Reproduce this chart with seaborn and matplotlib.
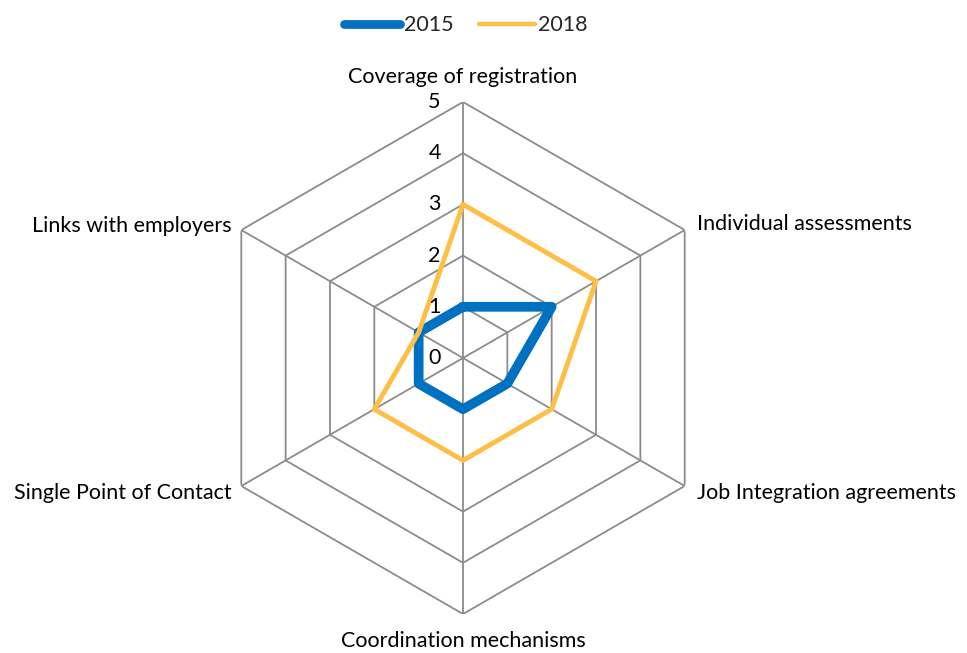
import numpy as np
import pandas as pd
import matplotlib
matplotlib.use("Agg")
import matplotlib.pyplot as plt
import seaborn as sns

categories = ["Coverage of registration", "Individual assessments",
              "Job Integration agreements", "Coordination mechanisms",
              "Single Point of Contact", "Links with employers"]
values_2015 = [1, 2, 1, 1, 1, 1]
values_2018 = [3, 3, 2, 2, 2, 1]
radial_ticks = [0, 1, 2, 3, 4, 5]

COLORS = {"2015": "#0070C0", "2018": "#FFBE45"}
GRID = "#8C8C8C"
FS = 15.5

sns.set_style("white")
plt.rcParams["font.family"] = ["Lato", "DejaVu Sans"]

n = len(categories)
angles = np.linspace(0, 2 * np.pi, n, endpoint=False)
closed = np.append(angles, angles[0])

df = pd.concat([
    pd.DataFrame({"theta": closed, "value": values_2015 + values_2015[:1], "year": "2015"}),
    pd.DataFrame({"theta": closed, "value": values_2018 + values_2018[:1], "year": "2018"}),
])

fig = plt.figure(figsize=(9.67, 6.53), dpi=100)
cx, cy, r_px = 463 / 967, (653 - 358) / 653, 256
w, h = 2 * r_px / 967, 2 * r_px / 653
ax = fig.add_axes([cx - w / 2, cy - h / 2, w, h], projection="polar")
ax.set_theta_zero_location("N")
ax.set_theta_direction(-1)
ax.set_ylim(0, 5)
ax.grid(False)
ax.spines["polar"].set_visible(False)
ax.set_xticks([])
ax.set_yticks([])
ax.patch.set_alpha(0)

# hexagonal grid + spokes
for r in radial_ticks[1:]:
    ax.plot(closed, [r] * len(closed), color=GRID, lw=1.3, zorder=1)
for a in angles:
    ax.plot([a, a], [0, 5], color=GRID, lw=1.3, zorder=1)

handles = []
for year, lw in [("2015", 7), ("2018", 3.5)]:
    sub = df[df["year"] == year]
    sns.lineplot(data=sub, x="theta", y="value", sort=False, estimator=None,
                 color=COLORS[year], linewidth=lw, ax=ax, legend=False,
                 zorder=3 if year == "2018" else 2)
    ln = ax.lines[-1]
    ln.set_solid_joinstyle("round")
    ln.set_solid_capstyle("round")
    handles.append(plt.Line2D([], [], color=COLORS[year], lw=lw * 0.9,
                              solid_capstyle="round", label=year))
ax.set_xlabel("")
ax.set_ylabel("")

for r in radial_ticks:
    ax.annotate(str(r), xy=(0, r), xytext=(-16, 0), textcoords="offset points",
                ha="right", va="center", fontsize=FS, color="black", zorder=5)

offsets = [((0, 11), "center", "bottom"), ((9, 4), "left", "center"),
           ((9, -5), "left", "center"), ((0, -12), "center", "top"),
           ((-7, -5), "right", "center"), ((-7, 3), "right", "center")]
for a, lab, (off, ha, va) in zip(angles, categories, offsets):
    ax.annotate(lab, xy=(a, 5), xytext=off, textcoords="offset points",
                ha=ha, va=va, fontsize=FS, color="black", annotation_clip=False)

fig.legend(handles=handles, loc="upper center", bbox_to_anchor=(0.482, 1.006),
           ncol=2, frameon=False, handlelength=2.6, handletextpad=0.15,
           columnspacing=1.2, fontsize=FS)

fig.savefig("out.png", dpi=100)
